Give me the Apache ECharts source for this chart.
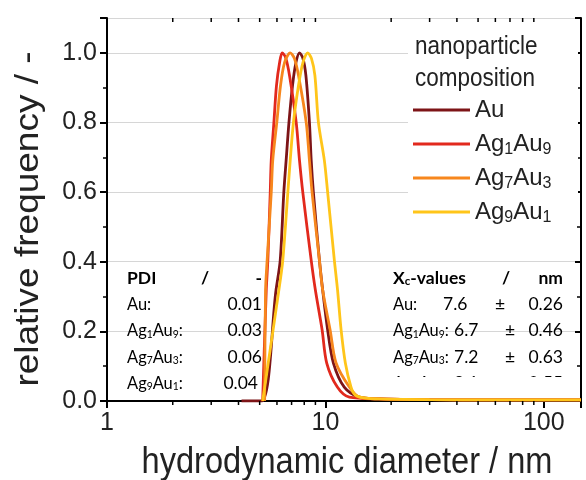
<!DOCTYPE html>
<html>
<head>
<meta charset="utf-8">
<script src="https://cdn.jsdelivr.net/npm/echarts@6/dist/echarts.min.js"></script>
<style>
  html, body { margin: 0; padding: 0; background: #fff; }
  #chart { width: 586px; height: 480px; }
</style>
</head>
<body>
<div id="chart"></div>
<script>
// Size distributions (hydrodynamic diameter in nm, relative frequency)
const seriesNames = ['Au', 'Ag1Au9', 'Ag7Au3', 'Ag9Au1'];
const legendLabels = ['Au', 'Ag{s|1}Au{s|9}', 'Ag{s|7}Au{s|3}', 'Ag{s|9}Au{s|1}'];
const seriesColors = ['#7d1417', '#e2291d', '#f7871d', '#ffc51a'];

const auSize = [4.13, 5.10, 5.94, 6.21, 6.45, 6.61, 6.81, 7.07, 7.33, 7.61, 7.89, 8.14, 8.45, 8.61, 8.81, 9.39, 9.72, 10.24, 10.88, 12.2, 14.3, 17.6, 30, 60, 148];
const auFreq = [0, 0, 0.318, 0.404, 0.599, 0.691, 0.80, 0.906, 0.972, 1.0, 0.984, 0.935, 0.80, 0.691, 0.599, 0.404, 0.318, 0.204, 0.109, 0.040, 0.011, 0.006, 0.004, 0.003, 0.003];

const ag1au9Size = [5.16, 5.36, 5.45, 5.59, 5.65, 5.81, 5.97, 6.17, 6.34, 6.57, 6.85, 7.35, 7.61, 7.88, 8.61, 9.00, 9.66, 10.14, 11.34, 12.87, 17.6, 30, 60, 148];
const ag1au9Freq = [0, 0.318, 0.404, 0.599, 0.691, 0.80, 0.906, 0.972, 1.0, 0.987, 0.935, 0.80, 0.691, 0.599, 0.404, 0.318, 0.204, 0.109, 0.040, 0.011, 0.006, 0.004, 0.003, 0.003];

const ag7au3Size = [5.27, 5.32, 5.41, 5.65, 5.74, 5.99, 6.23, 6.50, 6.90, 7.21, 7.53, 8.17, 8.45, 8.69, 9.39, 9.72, 10.51, 11.19, 12.87, 14.3, 17.6, 30, 60, 148];
const ag7au3Freq = [0, 0.318, 0.404, 0.599, 0.691, 0.80, 0.906, 0.972, 1.0, 0.984, 0.935, 0.80, 0.691, 0.599, 0.404, 0.318, 0.204, 0.109, 0.040, 0.011, 0.006, 0.004, 0.003, 0.003];

const ag9au1Size = [5.16, 6.12, 6.38, 6.73, 6.90, 7.14, 7.53, 7.89, 8.30, 8.63, 8.95, 9.29, 9.89, 10.24, 10.99, 11.37, 11.80, 12.34, 13.1, 13.7, 15.06, 17.6, 30, 60, 148];
const ag9au1Freq = [0, 0.318, 0.404, 0.599, 0.691, 0.80, 0.906, 0.972, 1.0, 0.984, 0.935, 0.80, 0.691, 0.599, 0.404, 0.318, 0.204, 0.109, 0.040, 0.017, 0.009, 0.006, 0.004, 0.003, 0.003];

const sizes = [auSize, ag1au9Size, ag7au3Size, ag9au1Size];
const freqs = [auFreq, ag1au9Freq, ag7au3Freq, ag9au1Freq];

// Axes
const xMin = 1, xMax = 148;
const yMin = 0, yMax = 1.1, yStep = 0.2;
const xMinorTicks = [2, 3, 4, 5, 6, 7, 8, 9, 20, 30, 40, 50, 60, 70, 80, 90];
const xTitle = 'hydrodynamic diameter / nm';
const yTitle = 'relative frequency / -';
const legendTitle = ['nanoparticle', 'composition'];

// Inset tables
const pdiHeader = ['PDI', '/', '-'];
const pdiRows = [['Au:', '0.01'], ['Ag{s|1}Au{s|9}:', '0.03'], ['Ag{s|7}Au{s|3}:', '0.06'], ['Ag{s|9}Au{s|1}:', '0.04']];
const xcHeader = ['{b|X}{c|c}{b|-values}', '/', 'nm'];
const xcRows = [['Au:', '7.6', '0.26'], ['Ag{s|1}Au{s|9}:', '6.7', '0.46'], ['Ag{s|7}Au{s|3}:', '7.2', '0.63'], ['Ag{s|9}Au{s|1}:', '8.1', '0.55']];

const AX_FONT = '"Liberation Sans", Arial, sans-serif';
const TAB_FONT = 'Lato, "DejaVu Sans", sans-serif';
const TAB_SIZE = 17.5;

const chart = echarts.init(document.getElementById('chart'), null, { renderer: 'canvas' });

const lineSeries = seriesNames.map((name, i) => ({
  name: name,
  type: 'line',
  data: sizes[i].map((s, k) => [s, freqs[i][k]]),
  showSymbol: false,
  symbol: 'none',
  smooth: 0.3,
  lineStyle: { color: seriesColors[i], width: 2.8 },
  itemStyle: { color: seriesColors[i] },
  z: 3
}));

// log-axis minor ticks on the bottom and top frame lines
const minorTickSeries = {
  type: 'custom',
  silent: true,
  clip: false,
  z: 6,
  data: xMinorTicks.map(v => [v, 0]),
  renderItem: function (params, api) {
    const v = api.value(0);
    const pb = api.coord([v, yMin]);
    const pt = api.coord([v, yMax]);
    return {
      type: 'group',
      children: [
        { type: 'line', shape: { x1: pb[0], y1: pb[1], x2: pb[0], y2: pb[1] + 4 }, style: { stroke: '#000', lineWidth: 1.5 } },
        { type: 'line', shape: { x1: pt[0], y1: pt[1], x2: pt[0], y2: pt[1] + 4 }, style: { stroke: '#000', lineWidth: 1.5 } }
      ]
    };
  }
};

const tabRich = {
  s: { font: '11px ' + TAB_FONT, fill: '#000', padding: [7, 0, 0, 0] },
  b: { font: 'bold ' + TAB_SIZE + 'px ' + TAB_FONT, fill: '#000' },
  c: { font: 'bold 11.5px ' + TAB_FONT, fill: '#000', padding: [7, 0, 0, 0] }
};
function tabText(x, y, text, align, bold, scaleX) {
  return { type: 'text', z: 5, x: x, y: y, scaleX: scaleX || 1, style: {
    text: text, font: (bold ? 'bold ' : '') + TAB_SIZE + 'px ' + TAB_FONT, fill: '#000',
    verticalAlign: 'middle', align: align || 'left', rich: tabRich } };
}

const graphics = [];
// axis titles
graphics.push({ type: 'text', z: 5, x: 347, y: 463, scaleX: 0.88, style: { text: xTitle, font: '37px ' + AX_FONT, fill: '#222', align: 'center', verticalAlign: 'middle' } });
graphics.push({ type: 'text', z: 5, x: 29, y: 219, rotation: Math.PI / 2, scaleY: 0.88, style: { text: yTitle, font: '37px ' + AX_FONT, fill: '#222', align: 'center', verticalAlign: 'middle' } });
// legend title on a white patch
graphics.push({ type: 'rect', z: 3, shape: { x: 408, y: 24, width: 170, height: 200 }, style: { fill: '#fff' } });
graphics.push({ type: 'text', z: 5, x: 415, y: 47, scaleX: 0.9, style: { text: legendTitle[0], font: '25px ' + AX_FONT, fill: '#222', verticalAlign: 'middle' } });
graphics.push({ type: 'text', z: 5, x: 415, y: 79, scaleX: 0.9, style: { text: legendTitle[1], font: '25px ' + AX_FONT, fill: '#222', verticalAlign: 'middle' } });

// PDI table
const rowH = 26.3;
const tabY0 = 278;
graphics.push(tabText(127, tabY0, pdiHeader[0], 'left', true));
graphics.push(tabText(205, tabY0, pdiHeader[1], 'center', true));
graphics.push(tabText(262, tabY0, pdiHeader[2], 'right', true));
pdiRows.forEach((r, i) => {
  const y = tabY0 + (i + 1) * rowH;
  graphics.push(tabText(127, y, r[0], 'left', false, 0.94));
  graphics.push(tabText(i === 3 ? 258 : 262, y, r[1], 'right', false));
});

// size table
graphics.push(tabText(393, tabY0, xcHeader[0], 'left', true));
graphics.push(tabText(506, tabY0, xcHeader[1], 'center', true));
graphics.push(tabText(563, tabY0, xcHeader[2], 'right', true));
xcRows.forEach((r, i) => {
  const y = tabY0 + (i + 1) * rowH;
  graphics.push(tabText(393, y, r[0], 'left', false, 0.94));
  graphics.push(tabText(i === 0 ? 443 : 454, y, r[1], 'left', false));
  graphics.push(tabText(i === 0 ? 500 : 510, y, '±', 'center', false));
  graphics.push(tabText(563, y, r[2], 'right', false));
});
// the text box of the size table ends partway through its last row
graphics.push({ type: 'rect', z: 7, shape: { x: 386, y: 377, width: 190, height: 17 }, style: { fill: '#fff' } });

const option = {
  backgroundColor: '#fff',
  animation: false,
  grid: { left: 107, right: 5, top: 18, bottom: 79, containLabel: false },
  legend: {
    orient: 'vertical',
    left: 413,
    top: 96,
    icon: 'rect',
    itemWidth: 57,
    itemHeight: 3,
    itemGap: 6,
    padding: 0,
    z: 6,
    data: seriesNames,
    formatter: name => legendLabels[seriesNames.indexOf(name)],
    textStyle: {
      fontFamily: AX_FONT, fontSize: 24, color: '#222', lineHeight: 28,
      rich: { s: { fontFamily: AX_FONT, fontSize: 16, color: '#222', lineHeight: 16, verticalAlign: 'bottom' } }
    }
  },
  xAxis: [{
    type: 'log', logBase: 10, min: xMin, max: xMax, position: 'bottom',
    axisLine: { show: true, lineStyle: { color: '#000', width: 2 } },
    axisTick: { show: true, length: 6, lineStyle: { color: '#000', width: 2 } },
    axisLabel: { fontFamily: AX_FONT, fontSize: 25, color: '#222', margin: 10, showMaxLabel: false },
    splitLine: { show: false }
  }, {
    type: 'log', logBase: 10, min: xMin, max: xMax, position: 'top',
    axisLine: { show: true, lineStyle: { color: '#000', width: 2 } },
    axisTick: { show: true, inside: true, length: 7, lineStyle: { color: '#000', width: 2 } },
    axisLabel: { show: false },
    splitLine: { show: false }
  }],
  yAxis: [{
    type: 'value', min: yMin, max: yMax, interval: yStep, position: 'left',
    axisLine: { show: true, lineStyle: { color: '#000', width: 2 } },
    axisTick: { show: true, length: 7, lineStyle: { color: '#000', width: 2 } },
    minorTick: { show: true, splitNumber: 2, length: 4, lineStyle: { color: '#000', width: 1.5 } },
    axisLabel: { fontFamily: AX_FONT, fontSize: 25, color: '#222', margin: 10, showMaxLabel: false, formatter: v => v.toFixed(1) },
    splitLine: { show: true, lineStyle: { color: '#d6d6d6', width: 1 } }
  }, {
    type: 'value', min: yMin, max: yMax, interval: yStep, position: 'right',
    axisLine: { show: true, lineStyle: { color: '#000', width: 2 } },
    axisTick: { show: true, inside: true, length: 6, lineStyle: { color: '#000', width: 2 } },
    minorTick: { show: true, splitNumber: 2, length: 4, lineStyle: { color: '#000', width: 1.5 } },
    axisLabel: { show: false },
    splitLine: { show: false }
  }],
  graphic: graphics,
  series: lineSeries.concat([minorTickSeries])
};

chart.setOption(option);
</script>
</body>
</html>
